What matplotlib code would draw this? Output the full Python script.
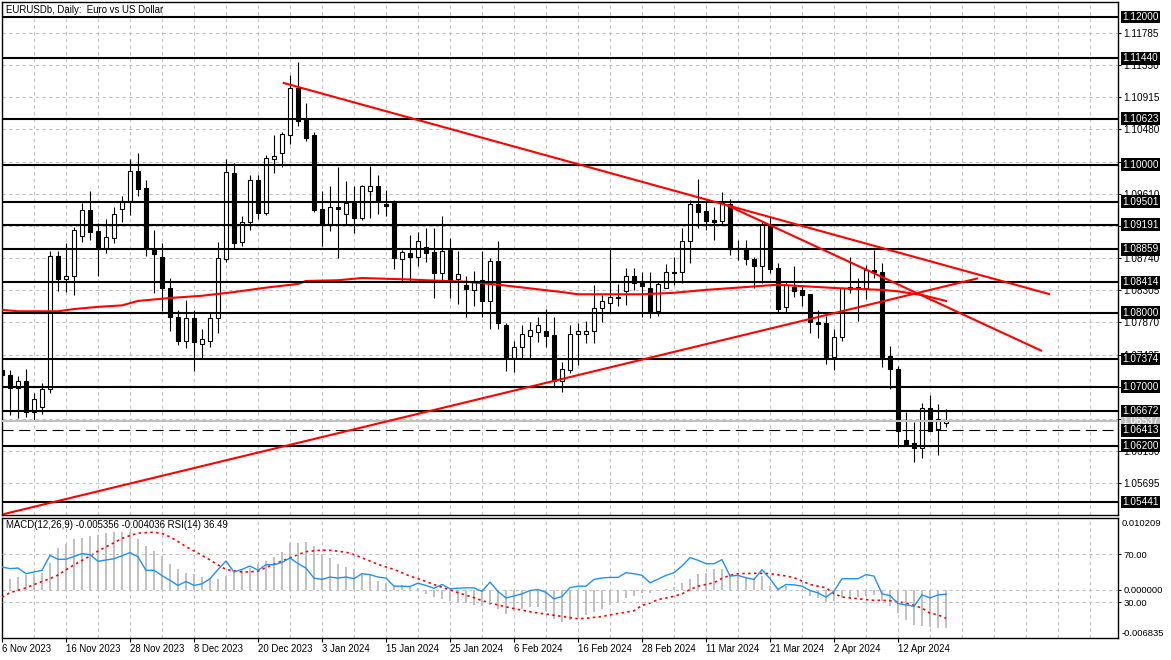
import matplotlib
matplotlib.use("Agg")
import matplotlib.pyplot as plt
from matplotlib.patches import Rectangle
import matplotlib.transforms as mtransforms

plt.rcParams['font.family'] = ['Liberation Sans', 'DejaVu Sans']

# ---------------- data ----------------
opens = [1.0723, 1.07158, 1.06978, 1.07077, 1.06662, 1.06730, 1.06965, 1.08772, 1.08452, 1.08501,
         1.09043, 1.09390, 1.09106, 1.08872, 1.09007, 1.09399, 1.09516, 1.09917, 1.09683, 1.08849,
         1.08750, 1.08339, 1.07938, 1.07622, 1.07925, 1.07573, 1.07622, 1.07925, 1.08723, 1.09894,
         1.08954, 1.09224, 1.09796, 1.09353, 1.10084, 1.10157, 1.10404, 1.11036, 1.10607, 1.10404,
         1.09403, 1.09196, 1.09426, 1.09332, 1.09489, 1.09277, 1.09652, 1.09715, 1.09471, 1.09502,
         1.08723, 1.08813, 1.08750, 1.08885, 1.08818, 1.08533, 1.08849, 1.08453, 1.08375, 1.08307,
         1.08443, 1.08163, 1.08700, 1.07834, 1.07384, 1.07533, 1.07690, 1.07744, 1.07753, 1.07699,
         1.07081, 1.07226, 1.07709, 1.07713, 1.07757, 1.08060, 1.08128, 1.08215, 1.08298, 1.08497,
         1.08430, 1.08339, 1.08028, 1.08331, 1.08551, 1.08547, 1.08971, 1.09471, 1.09376, 1.09250,
         1.09245, 1.09471, 1.08872, 1.08872, 1.08727, 1.08636, 1.09187, 1.08601, 1.08074, 1.08344,
         1.08308, 1.08250, 1.07879, 1.07857, 1.07406, 1.07676, 1.08325, 1.08330, 1.08331, 1.08578,
         1.08551, 1.07415, 1.07239, 1.06279, 1.06235, 1.06167, 1.06708, 1.06424, 1.06509]
highs = [1.0730, 1.07226, 1.07145, 1.07239, 1.06919, 1.07046, 1.08840, 1.08840, 1.08948, 1.09160,
         1.09489, 1.09647, 1.09210, 1.09264, 1.09435, 1.09579, 1.10080, 1.10157, 1.09796, 1.09119,
         1.08940, 1.08474, 1.08037, 1.08173, 1.08037, 1.07780, 1.08014, 1.08961, 1.10075, 1.10021,
         1.09309, 1.09863, 1.09863, 1.10134, 1.10404, 1.10449, 1.11216, 1.11396, 1.10841, 1.10449,
         1.09647, 1.09715, 1.09967, 1.09782, 1.09715, 1.09728, 1.09985, 1.09863, 1.09661, 1.09530,
         1.08849, 1.09052, 1.09088, 1.09142, 1.09142, 1.09309, 1.09007, 1.08840, 1.08497, 1.08565,
         1.08840, 1.08736, 1.08970, 1.07866, 1.07618, 1.07834, 1.07879, 1.07947, 1.08051, 1.07947,
         1.07338, 1.07834, 1.07856, 1.07889, 1.08375, 1.08240, 1.08872, 1.08389, 1.08601, 1.08601,
         1.08547, 1.08547, 1.08420, 1.08659, 1.08750, 1.09142, 1.09525, 1.09809, 1.09525, 1.09435,
         1.09638, 1.09534, 1.08984, 1.08984, 1.08758, 1.09232, 1.09299, 1.08669, 1.08420, 1.08632,
         1.08375, 1.08254, 1.08037, 1.07956, 1.07776, 1.08353, 1.08750, 1.08466, 1.08646, 1.08849,
         1.08669, 1.07550, 1.07280, 1.06662, 1.06527, 1.06784, 1.06888, 1.06766, 1.06694]
lows = [1.0705, 1.06617, 1.06572, 1.06594, 1.06540, 1.06631, 1.06911, 1.08298, 1.08285, 1.08240,
        1.08961, 1.08984, 1.08497, 1.08813, 1.08940, 1.09232, 1.09322, 1.09579, 1.08768, 1.08271,
        1.08028, 1.07757, 1.07564, 1.07528, 1.07216, 1.07392, 1.07541, 1.07722, 1.08691, 1.08858,
        1.08903, 1.09119, 1.09264, 1.09322, 1.09886, 1.09975, 1.10278, 1.10526, 1.10327, 1.09367,
        1.08907, 1.09110, 1.08744, 1.09196, 1.09083, 1.09250, 1.09286, 1.09336, 1.09313, 1.08592,
        1.08420, 1.08420, 1.08632, 1.08686, 1.08195, 1.08443, 1.08204, 1.08119, 1.07939, 1.08096,
        1.07939, 1.07780, 1.07780, 1.07217, 1.07203, 1.07392, 1.07392, 1.07609, 1.07541, 1.07000,
        1.06924, 1.07185, 1.07293, 1.07595, 1.07595, 1.07871, 1.07993, 1.08091, 1.08105, 1.08308,
        1.07947, 1.07933, 1.07960, 1.08331, 1.08375, 1.08407, 1.08669, 1.09150, 1.09119, 1.08984,
        1.09187, 1.08781, 1.08714, 1.08646, 1.08331, 1.08407, 1.08534, 1.08001, 1.08001, 1.08217,
        1.08096, 1.07730, 1.07663, 1.07303, 1.07226, 1.07622, 1.08263, 1.07889, 1.08182, 1.08470,
        1.07271, 1.06969, 1.06189, 1.06211, 1.05986, 1.06040, 1.06405, 1.06076, 1.06459]
closes = [1.0716, 1.06978, 1.07077, 1.06662, 1.06830, 1.06965, 1.08772, 1.08452, 1.08501, 1.09115,
          1.09390, 1.09096, 1.08858, 1.09021, 1.09332, 1.09516, 1.09917, 1.09674, 1.08858, 1.08795,
          1.08339, 1.07947, 1.07622, 1.07925, 1.07609, 1.07641, 1.07925, 1.08736, 1.09908, 1.08940,
          1.09224, 1.09796, 1.09353, 1.10089, 1.10124, 1.10413, 1.11036, 1.10598, 1.10368, 1.09390,
          1.09196, 1.09426, 1.09399, 1.09489, 1.09286, 1.09715, 1.09715, 1.09512, 1.09448, 1.08736,
          1.08818, 1.08750, 1.08971, 1.08804, 1.08533, 1.08835, 1.08443, 1.08520, 1.08317, 1.08434,
          1.08163, 1.08700, 1.07866, 1.07406, 1.07533, 1.07713, 1.07767, 1.07834, 1.07690, 1.07081,
          1.07235, 1.07713, 1.07753, 1.07757, 1.08060, 1.08163, 1.08209, 1.08200, 1.08497, 1.08407,
          1.08362, 1.08028, 1.08389, 1.08547, 1.08538, 1.08971, 1.09471, 1.09367, 1.09241, 1.09232,
          1.09480, 1.08858, 1.08858, 1.08723, 1.08636, 1.09196, 1.08592, 1.08047, 1.08375, 1.08298,
          1.08240, 1.07871, 1.07844, 1.07406, 1.07668, 1.08339, 1.08353, 1.08353, 1.08578, 1.08555,
          1.07406, 1.07239, 1.06401, 1.06221, 1.06167, 1.06708, 1.06405, 1.06559, 1.06537]

date_labels = ["6 Nov 2023", "16 Nov 2023", "28 Nov 2023", "8 Dec 2023", "20 Dec 2023",
               "3 Jan 2024", "15 Jan 2024", "25 Jan 2024", "6 Feb 2024", "16 Feb 2024",
               "28 Feb 2024", "11 Mar 2024", "21 Mar 2024", "2 Apr 2024", "12 Apr 2024"]
date_label_bars = [0, 8, 16, 24, 32, 40, 48, 56, 64, 72, 80, 88, 96, 104, 112]

# moving average (read at several bars)
ma_bars = [0, 2, 7, 9, 12, 15, 17, 21, 25, 29, 33, 37, 38, 42, 45, 51, 53, 58, 62, 66,
           70, 72, 80, 84, 88, 92, 97, 100, 105, 110, 112, 115, 118]
ma_vals = [1.0804, 1.0802, 1.0802, 1.0805, 1.0808, 1.0810, 1.0816, 1.0820, 1.0823, 1.0828,
           1.0834, 1.0839, 1.0843, 1.0844, 1.0847, 1.0845, 1.0844, 1.0842, 1.0838, 1.0833,
           1.0828, 1.0825, 1.0825, 1.0827, 1.0831, 1.0834, 1.0838, 1.0836, 1.0833, 1.0831,
           1.0829, 1.0824, 1.0816]

# horizontal levels
level_prices = [1.12000, 1.11440, 1.10623, 1.10000, 1.09501, 1.09191, 1.08859, 1.08414,
                1.08000, 1.07374, 1.07000, 1.06672, 1.06200, 1.05441]
dashed_level = 1.06413
bid_price = 1.06537
price_grid = [1.05695, 1.06130, 1.06565, 1.07000, 1.07435, 1.07870, 1.08305, 1.08740,
              1.09175, 1.09610, 1.10045, 1.10480, 1.10915, 1.11350, 1.11785]

# trend lines: (bar, price) anchors
trend_lines = [((35.1, 1.11111), (131.0, 1.08250)),
               ((90.5, 1.09460), (130.0, 1.07483)),
               ((0.1, 1.05274), (122.0, 1.08466))]

# MACD main (histogram), signal, RSI
macd_main = [0.00140, 0.00157, 0.00181, 0.00205, 0.00229, 0.00243, 0.00386, 0.00600, 0.00658, 0.00720,
             0.00743, 0.00767, 0.00782, 0.00801, 0.00815, 0.00815, 0.00825, 0.00720, 0.00624, 0.00553,
             0.00481, 0.00372, 0.00300, 0.00243, 0.00219, 0.00181, 0.00172, 0.00148, 0.00195, 0.00267,
             0.00291, 0.00305, 0.00362, 0.00410, 0.00467, 0.00543, 0.00672, 0.00672, 0.00686, 0.00624,
             0.00515, 0.00458, 0.00372, 0.00329, 0.00291, 0.00243, 0.00210, 0.00124, 0.00100, 0.00067,
             0.00067, 0.00038, 0.00029, -0.00052, -0.00105, -0.00124, -0.00153, -0.00186, -0.00186, -0.00219,
             -0.00234, -0.00210, -0.00267, -0.00343, -0.00305, -0.00267, -0.00250, -0.00240, -0.00300, -0.00420,
             -0.00450, -0.00424, -0.00380, -0.00355, -0.00317, -0.00269, -0.00211, -0.00173, -0.00115, -0.00091,
             -0.00050, -0.00043, -0.00010, 0.00010, 0.00040, 0.00100, 0.00150, 0.00220, 0.00245, 0.00290,
             0.00290, 0.00230, 0.00200, 0.00170, 0.00150, 0.00200, 0.00050, 0.00020, 0.00050, 0.00000,
             -0.00020, -0.00090, -0.00120, -0.00170, -0.00165, -0.00120, -0.00110, -0.00105, -0.00085, -0.00075,
             -0.00160, -0.00230, -0.00330, -0.00430, -0.00500, -0.00510, -0.00530, -0.00535, -0.005356]
signal_bars = [0, 1, 3, 4, 6, 7, 8, 9, 11, 12, 14, 15, 16, 17, 19, 20, 21, 22, 23, 25, 26, 27, 28,
               30, 31, 32, 34, 35, 37, 38, 40, 41, 43, 44, 46, 47, 49, 50, 51, 53, 54, 56, 57, 59,
               60, 62, 64, 66, 67, 69, 70, 72, 73, 75, 76, 77, 79, 80, 81, 82, 84, 85, 86, 87, 89,
               90, 91, 92, 94, 95, 96, 98, 99, 100, 101, 103, 104, 105, 106, 107, 108, 109, 110,
               111, 113, 114, 115, 116, 117, 118]
signal_vals = [-0.00105, -0.00040, 0.00029, 0.00076, 0.00160, 0.00210, 0.00285, 0.00355, 0.00480,
               0.00552, 0.00670, 0.00730, 0.00772, 0.00805, 0.00820, 0.00800, 0.00753, 0.00686,
               0.00615, 0.00490, 0.00425, 0.00355, 0.00290, 0.00253, 0.00255, 0.00267, 0.00365,
               0.00410, 0.00500, 0.00543, 0.00565, 0.00562, 0.00535, 0.00500, 0.00410, 0.00362,
               0.00290, 0.00243, 0.00195, 0.00120, 0.00075, 0.00000, -0.00040, -0.00110, -0.00153,
               -0.00215, -0.00267, -0.00310, -0.00329, -0.00360, -0.00377, -0.00410, -0.00403,
               -0.00379, -0.00355, -0.00336, -0.00297, -0.00221, -0.00187, -0.00139, -0.00091,
               -0.00058, 0.00005, 0.00053, 0.00101, 0.00163, 0.00206, 0.00230, 0.00235, 0.00235,
               0.00230, 0.00197, 0.00173, 0.00125, 0.00077, 0.00029, -0.00053, -0.00101, -0.00115,
               -0.00125, -0.00139, -0.00149, -0.00149, -0.00154, -0.00187, -0.00221, -0.00259,
               -0.00331, -0.00355, -0.004036]
rsi_vals = [59.2, 57.8, 58.3, 53.6, 55.0, 56.4, 68.9, 65.6, 65.6, 68.0,
            70.3, 69.5, 63.9, 65.0, 66.1, 68.5, 71.2, 67.6, 56.4, 56.4,
            52.0, 48.0, 43.8, 47.1, 43.8, 45.2, 49.4, 57.0, 64.2, 55.0,
            57.2, 60.0, 56.4, 61.1, 61.1, 63.0, 66.7, 62.0, 58.3, 49.9,
            48.8, 50.8, 49.9, 50.8, 49.4, 53.6, 52.8, 50.8, 49.9, 43.2,
            43.2, 42.9, 45.7, 43.8, 41.5, 44.6, 41.0, 41.5, 41.8, 41.8,
            38.8, 46.6, 38.8, 33.4, 35.0, 36.8, 39.6, 40.4, 38.0, 32.6,
            34.6, 42.0, 43.2, 43.2, 48.8, 50.0, 50.5, 50.5, 54.4, 53.6,
            52.2, 46.0, 49.0, 52.2, 54.4, 60.0, 67.0, 64.8, 61.9, 61.9,
            65.3, 51.6, 52.2, 50.2, 48.8, 56.9, 49.4, 40.4, 44.6, 44.3,
            43.2, 39.6, 37.6, 34.0, 39.0, 49.4, 49.4, 49.4, 52.8, 51.6,
            36.8, 35.4, 28.7, 27.6, 26.4, 35.9, 33.4, 35.9, 36.49]
macd_top, macd_bottom = 0.010209, -0.006835
legend_text = "MACD(12,26,9) -0.005356 -0.004036 RSI(14) 36.49"
title_text = "EURUSDb, Daily:  Euro vs US Dollar"

# ---------------- figure ----------------
W, H = 1171, 660
fig = plt.figure(figsize=(W / 100, H / 100), dpi=100)
fig.patch.set_facecolor('white')

def fx(px):
    return px / W

def fy(py):
    return 1 - py / H

X_LEFT, X_RIGHT = 2, 1118
n = len(closes)
XMAX = (X_RIGHT - X_LEFT) / 8.0
ax = fig.add_axes([fx(X_LEFT), fy(515), fx(X_RIGHT) - fx(X_LEFT), (515 - 2) / H])
axm = fig.add_axes([fx(X_LEFT), fy(638), fx(X_RIGHT) - fx(X_LEFT), (638 - 518) / H])

GRID = '#c0c0c0'
FS = 7.2      # right-hand price scale
FSD = 6.9     # dates, title, legend
FSM = 6.8     # indicator scale

for a in (ax, axm):
    a.set_xlim(0, XMAX)
    for s in a.spines.values():
        s.set_color('black')
        s.set_linewidth(1.0)
    for xv in range(0, int(XMAX) + 1, 4):
        a.axvline(xv, color=GRID, lw=0.8, ls=(0, (3, 3)), zorder=0)

ax.set_ylim(1.05265, 1.12203)
for v in price_grid:
    ax.axhline(v, color=GRID, lw=0.8, ls=(0, (3, 3)), zorder=0)

# candles
body_w = 0.55
for i, (o, h, l, c) in enumerate(zip(opens, highs, lows, closes)):
    ax.vlines(i, l, h, color='black', lw=0.8, zorder=2)
    lo, hi = min(o, c), max(o, c)
    ax.add_patch(Rectangle((i - body_w / 2, lo), body_w, max(hi - lo, 1e-6),
                           facecolor='white' if c >= o else 'black',
                           edgecolor='black', lw=0.8, zorder=3))

# moving average
ax.plot(ma_bars, ma_vals, color='red', lw=1.5, zorder=4)

# horizontal levels
for v in level_prices:
    ax.axhline(v, color='black', lw=1.5, zorder=5)
ax.axhline(bid_price, color='#c0c0c0', lw=1.5, zorder=4)
ax.axhline(dashed_level, color='black', lw=0.8, ls=(0, (10, 5)), zorder=5)

# trend lines
for (x0, y0), (x1, y1) in trend_lines:
    ax.plot([x0, x1], [y0, y1], color='red', lw=1.5, zorder=6, solid_capstyle='butt')

# price axis
ax.yaxis.tick_right()
ax.set_yticks(price_grid)
ax.set_yticklabels([f"{v:.5f}" for v in price_grid], fontsize=FS)
ax.tick_params(axis='y', length=2.2, width=0.8, pad=1.5, direction='out', colors='black')
ax.tick_params(axis='x', length=0, labelbottom=False)

trans = mtransforms.blended_transform_factory(ax.transAxes, ax.transData)
for v in level_prices + [dashed_level]:
    ax.text(1.0 + 4.5 / 1116, v, f"{v:.5f}", transform=trans, fontsize=FS, color='white',
            va='center', ha='left', zorder=20, clip_on=False,
            bbox=dict(boxstyle='square,pad=0.14', fc='black', ec='none'))
ax.text(1.0 + 4.5 / 1116, bid_price, f"{bid_price:.5f}", transform=trans, fontsize=FS,
        color='white', va='center', ha='left', zorder=19, clip_on=False,
        bbox=dict(boxstyle='square,pad=0.14', fc='#c0c0c0', ec='none'))

ax.text(4 / 1116, 1 - 8 / 513, title_text, transform=ax.transAxes, fontsize=FSD,
        ha='left', va='center', zorder=21)

# ---------------- MACD / RSI panel ----------------
axm.set_ylim(macd_bottom, macd_top)
axm.axhline(0, color=GRID, lw=0.8, ls=(0, (3, 3)), zorder=0)
axm.vlines(range(n), 0, macd_main, color='#c0c0c0', lw=1.4, zorder=2)
axm.plot(signal_bars, signal_vals, color='red', lw=1.2, ls=(0, (1.5, 2)), zorder=3)

axr = axm.twinx()
axr.set_position(axm.get_position())
axr.set_ylim(0, 100)
axr.set_xlim(0, XMAX)
for yv in (70, 30):
    axr.axhline(yv, color=GRID, lw=0.8, ls=(0, (3, 3)), zorder=0)
axr.plot(range(n), rsi_vals, color='#1e90ff', lw=1.0, zorder=4)
axr.set_yticks([70, 30])
axr.set_yticklabels(["70.00", "30.00"], fontsize=FSM)
axr.tick_params(axis='y', length=2.2, width=0.8, pad=1.5, direction='out')
for s in axr.spines.values():
    s.set_visible(False)

axm.yaxis.tick_right()
axm.set_yticks([0])
axm.set_yticklabels(["0.000000"], fontsize=FSM)
axm.tick_params(axis='y', length=2.2, width=0.8, pad=1.5, direction='out')
axm.text(1.0 + 3.5 / 1116, 0.95, f"{macd_top:.6f}", transform=axm.transAxes, fontsize=FSM,
         ha='left', va='center', clip_on=False)
axm.text(1.0 + 3.5 / 1116, 0.04, f"{macd_bottom:.6f}", transform=axm.transAxes, fontsize=FSM,
         ha='left', va='center', clip_on=False)
axm.text(4 / 1116, 1 - 7 / 120, legend_text, transform=axm.transAxes, fontsize=FSD,
         ha='left', va='center', zorder=21)

axm.set_xticks(date_label_bars)
axm.set_xticklabels(date_labels, fontsize=FSD, ha='left')
axm.tick_params(axis='x', length=3, width=0.8, pad=1.5, direction='out')

fig.savefig("out.png", dpi=100, facecolor='white')
